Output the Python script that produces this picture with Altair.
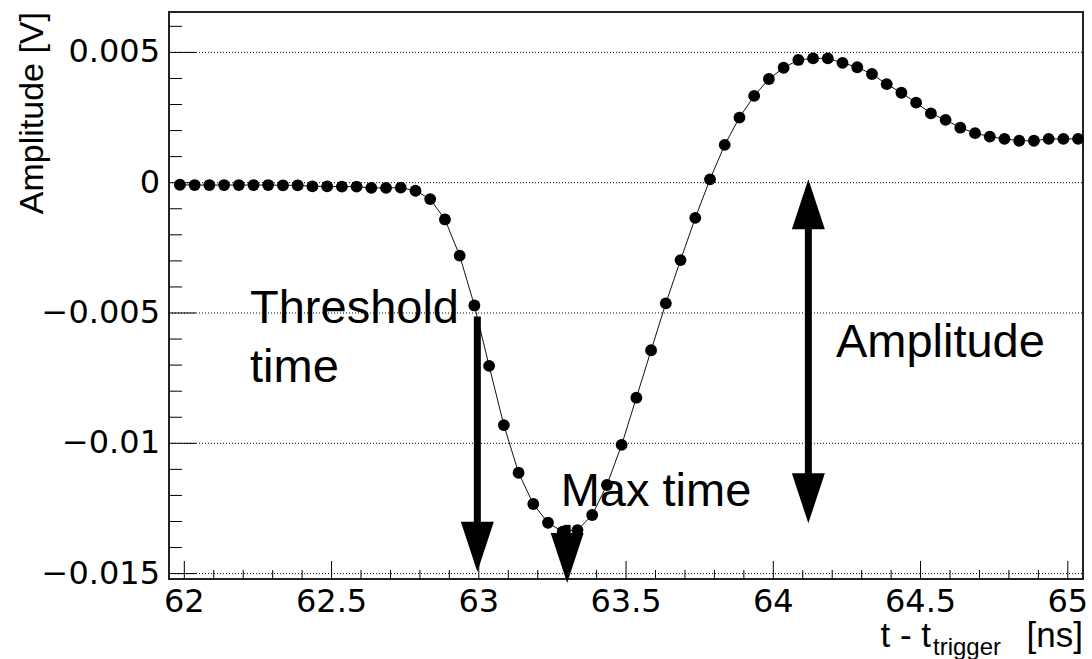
import altair as alt
import pandas as pd

# Sampled waveform: time after trigger [ns] and amplitude [V]
time_ns = [
    61.985, 62.035, 62.085, 62.135, 62.185, 62.235, 62.285, 62.335, 62.385, 62.435,
    62.485, 62.535, 62.585, 62.635, 62.685, 62.735, 62.785, 62.835, 62.885, 62.935,
    62.985, 63.035, 63.085, 63.135, 63.185, 63.235, 63.285, 63.335, 63.385, 63.435,
    63.485, 63.535, 63.585, 63.635, 63.685, 63.735, 63.785, 63.835, 63.885, 63.935,
    63.985, 64.035, 64.085, 64.135, 64.185, 64.235, 64.285, 64.335, 64.385, 64.435,
    64.485, 64.535, 64.585, 64.635, 64.685, 64.735, 64.785, 64.835, 64.885, 64.935,
    64.985, 65.035,
]
amplitude_v = [
    -0.00008, -0.00009, -0.00009, -0.00009, -0.00009, -0.00009, -0.00009, -0.00010, -0.00010, -0.00014,
    -0.00014, -0.00015, -0.00015, -0.00020, -0.00020, -0.00019, -0.00031, -0.00063, -0.00141, -0.00280,
    -0.00471, -0.00703, -0.00930, -0.01113, -0.01233, -0.01305, -0.01339, -0.01333, -0.01275, -0.01160,
    -0.01006, -0.00825, -0.00643, -0.00463, -0.00297, -0.00135, 0.00013, 0.00145, 0.00250, 0.00333,
    0.00398, 0.00441, 0.00471, 0.00477, 0.00477, 0.00460, 0.00443, 0.00417, 0.00378, 0.00345,
    0.00307, 0.00266, 0.00241, 0.00211, 0.00190, 0.00177, 0.00168, 0.00161, 0.00161, 0.00168,
    0.00168, 0.00168,
]

# Axis ticks
y_major = [-0.015, -0.01, -0.005, 0.0, 0.005]
y_minor = [-0.014, -0.013, -0.012, -0.011, -0.009, -0.008, -0.007, -0.006,
           -0.004, -0.003, -0.002, -0.001, 0.001, 0.002, 0.003, 0.004, 0.006]
x_major = [62.0, 62.5, 63.0, 63.5, 64.0, 64.5, 65.0]
x_minor = [62.1, 62.2, 62.3, 62.4, 62.6, 62.7, 62.8, 62.9,
           63.1, 63.2, 63.3, 63.4, 63.6, 63.7, 63.8, 63.9,
           64.1, 64.2, 64.3, 64.4, 64.6, 64.7, 64.8, 64.9]

X_DOMAIN = [61.948, 65.0516]
Y_DOMAIN = [-0.015207, 0.00655]
W, H = 914, 567

LABEL_FONT = "DejaVu Sans"
TEXT_FONT = "Liberation Sans"

xs = alt.Scale(domain=X_DOMAIN, nice=False, zero=False)
ys = alt.Scale(domain=Y_DOMAIN, nice=False, zero=False)


def X(field):
    return alt.X(field, scale=xs, axis=None)


def Y(field):
    return alt.Y(field, scale=ys, axis=None)


wave = pd.DataFrame({"t": time_ns, "a": amplitude_v})
ymaj = pd.DataFrame({"v": y_major})
xmaj = pd.DataFrame({"v": x_major})

# Dotted horizontal grid at the major amplitude ticks
grid = alt.Chart(ymaj).mark_rule(color="#000", strokeWidth=1, strokeDash=[1, 2]).encode(
    y=Y("v:Q"), x=alt.value(0), x2=alt.value(W))

line = alt.Chart(wave).mark_line(color="#111", strokeWidth=1).encode(x=X("t:Q"), y=Y("a:Q"))
points = alt.Chart(wave).mark_circle(size=140, color="#000", opacity=1).encode(
    x=X("t:Q"), y=Y("a:Q"))


# Inward-pointing ticks on the left and bottom frame
def y_ticks(values, length):
    return alt.Chart(pd.DataFrame({"v": values})).mark_rule(color="#000", strokeWidth=1).encode(
        y=Y("v:Q"), x=alt.value(0), x2=alt.value(length))


def x_ticks(values, length):
    return alt.Chart(pd.DataFrame({"v": values})).mark_rule(color="#000", strokeWidth=1).encode(
        x=X("v:Q"), y=alt.value(H), y2=alt.value(H - length))


# Tick labels
y_labels = alt.Chart(ymaj).transform_calculate(lbl="format(datum.v, '~g')").mark_text(
    align="right", baseline="middle", font=LABEL_FONT, fontSize=32, color="#000").encode(
    y=Y("v:Q"), x=alt.value(-9), text="lbl:N")
x_labels = alt.Chart(xmaj).transform_calculate(lbl="format(datum.v, '~g')").mark_text(
    align="center", baseline="top", font=LABEL_FONT, fontSize=32, color="#000").encode(
    x=X("v:Q"), y=alt.value(H + 8), text="lbl:N")

# Arrows: shaft plus triangular head whose tip sits on the data point
HEAD_DOWN = "M-0.66,-2L0.66,-2L0,0Z"
HEAD_UP = "M-0.66,2L0.66,2L0,0Z"
HEAD_SIZE = 2500  # scale sqrt(size)/2 = 25 -> head 50 px tall, 33 px wide


def head(df, field, shape):
    return alt.Chart(df).mark_point(shape=shape, size=HEAD_SIZE, filled=True, color="#000",
                                    opacity=1, strokeWidth=0).encode(
        x=X("x:Q"), y=Y(f"{field}:Q"))


threshold_arrow = pd.DataFrame({"x": [62.995], "start": [-0.00513], "tip": [-0.01493]})
maxtime_arrow = pd.DataFrame({"x": [63.30], "start": [-0.01313], "tip": [-0.01536]})
amp_arrow = pd.DataFrame({"x": [64.119], "top": [0.00013], "bottom": [-0.01307]})

arrows = []
for df in (threshold_arrow, maxtime_arrow):
    arrows.append(alt.Chart(df).mark_rule(color="#000", strokeWidth=7, y2Offset=-45).encode(
        x=X("x:Q"), y=Y("start:Q"), y2="tip:Q"))
    arrows.append(head(df, "tip", HEAD_DOWN))
arrows.append(alt.Chart(amp_arrow).mark_rule(color="#000", strokeWidth=7, yOffset=45,
                                             y2Offset=-45).encode(
    x=X("x:Q"), y=Y("top:Q"), y2="bottom:Q"))
arrows.append(head(amp_arrow, "top", HEAD_UP))
arrows.append(head(amp_arrow, "bottom", HEAD_DOWN))

# Annotation labels
notes = pd.DataFrame({
    "x": [62.223, 62.223, 63.278, 64.2125],
    "y": [-0.005395, -0.007636, -0.012395, -0.0067],
    "label": ["Threshold", "time", "Max time", "Amplitude"],
})
note_text = alt.Chart(notes).mark_text(align="left", baseline="alphabetic", fontSize=47,
                                       font=TEXT_FONT, color="#000").encode(
    x=X("x:Q"), y=Y("y:Q"), text="label:N")

# Axis titles
one = alt.Data(values=[{}])
y_title = alt.Chart(one).mark_text(text="Amplitude [V]", angle=270, align="right",
                                   baseline="alphabetic", fontSize=34, font=TEXT_FONT,
                                   color="#000").encode(x=alt.value(-125.7), y=alt.value(0))
x_title_main = alt.Chart(one).mark_text(text="t - t", align="right", baseline="alphabetic",
                                        fontSize=35, font=TEXT_FONT, color="#000").encode(
    x=alt.value(762), y=alt.value(634.7))
x_title_sub = alt.Chart(one).mark_text(text="trigger", align="left", baseline="alphabetic",
                                       fontSize=24, font=TEXT_FONT, color="#000").encode(
    x=alt.value(764), y=alt.value(643))
x_title_unit = alt.Chart(one).mark_text(text="[ns]", align="right", baseline="alphabetic",
                                        fontSize=35, font=TEXT_FONT, color="#000").encode(
    x=alt.value(914), y=alt.value(634.7))

chart = alt.layer(
    grid, line, points,
    y_ticks(y_major, 27), y_ticks(y_minor, 13),
    x_ticks(x_major, 18), x_ticks(x_minor, 9),
    y_labels, x_labels,
    *arrows,
    note_text, y_title, x_title_main, x_title_sub, x_title_unit,
).properties(
    width=W, height=H,
    padding={"left": 169, "top": 12, "right": 9, "bottom": 80},
    autosize=alt.AutoSizeParams(type="none"),
    background="white",
).configure(
    font=TEXT_FONT,
).configure_view(
    stroke="#222", strokeWidth=2,
)

chart.save("out.html", embed_options={"renderer": "svg", "actions": False})
